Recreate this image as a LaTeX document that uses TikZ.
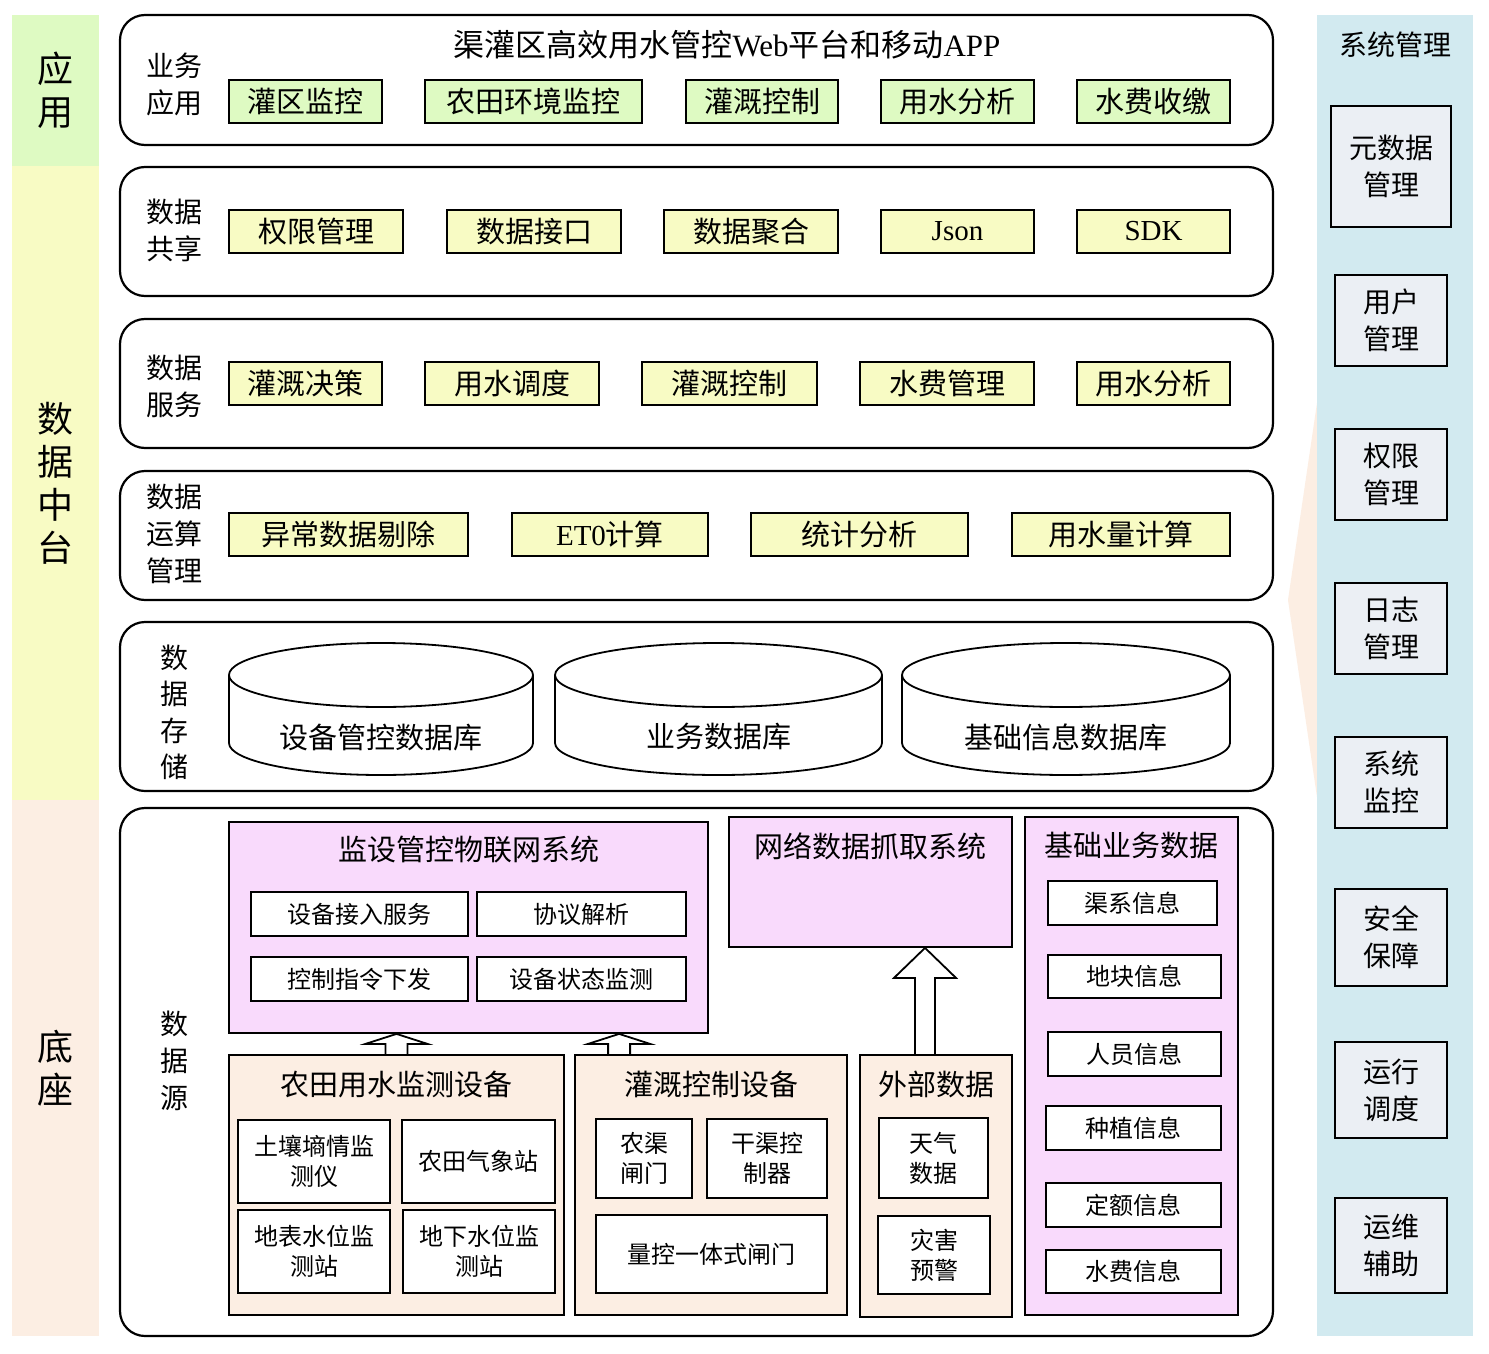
\documentclass[tikz,border=0pt]{standalone}
\usepackage{fontspec}
\setmainfont{Liberation Serif}
\newfontfamily\cjk{Noto Sans CJK SC}
\usetikzlibrary{positioning, calc}
\definecolor{appgreen}{HTML}{DEFAC2}
\definecolor{midyellow}{HTML}{F8FBC4}
\definecolor{syspink}{HTML}{F9DAFC}
\definecolor{devpeach}{HTML}{FCEEE3}
\definecolor{mgmtblue}{HTML}{D2EAF0}
\definecolor{mgmtgray}{HTML}{EBEFF4}
\newcommand{\lat}[1]{{\rmfamily #1}}
\tikzset{
        band/.style={inner sep=0pt, align=center, font=\fontsize{36}{43}\cjk}, % coloured side columns
        layer/.style={draw, line width=2.2pt, rounded corners=25pt, inner sep=0pt}, % big rounded layers
        tag/.style={inner sep=0pt, align=center, font=\fontsize{28}{37}\cjk}, % layer names
        ttl/.style={inner sep=0pt, font=\fontsize{29}{34}\cjk},
        func/.style={draw, line width=1.8pt, inner sep=0pt, minimum height=43pt, font=\fontsize{29}{34}\cjk},
        appfunc/.style={func, fill=appgreen},
        midfunc/.style={func, fill=midyellow},
        sysbox/.style={draw, line width=1.8pt, fill=syspink, inner sep=0pt},
        devbox/.style={draw, line width=1.8pt, fill=devpeach, inner sep=0pt},
        item/.style={draw, line width=1.8pt, fill=white, inner sep=0pt, align=center, font=\fontsize{24}{30}\cjk},
        mgmt/.style={draw, line width=2pt, fill=mgmtgray, inner sep=0pt, minimum width=112pt, align=center, font=\fontsize{28}{37}\cjk},
        drum/.style={line width=1.8pt},
        dbname/.style={inner sep=0pt, font=\fontsize{29}{34}\cjk},
        hollow/.style={line width=1.8pt},
        }
% database drum: centre x, x radius
\newcommand{\dbdrum}[2]{%
        \draw[drum] (#1,675) ellipse[x radius=#2, y radius=32];
        \draw[drum] ({#1-#2},675) -- ({#1-#2},743) arc[start angle=180, end angle=0, x radius=#2, y radius=32] -- ({#1+#2},675);}
% hollow up arrow: base point, target (only its y), head length, shaft half width
\newcommand{\hollowup}[4]{%
        \draw[hollow] let \p1=#1, \p2=#2 in
        (\x1-#4,\y1) -- (\x1-#4,\y2-#3) -- (\x1-31pt,\y2-#3) -- (\x1,\y2)
        -- (\x1+31pt,\y2-#3) -- (\x1+#4,\y2-#3) -- (\x1+#4,\y1);}
\begin{document}
\begin{tikzpicture}[x=1pt, y=-1pt]
        \fill[white] (0,0) rectangle (1489,1354);
        \useasboundingbox (0,0) rectangle (1489,1354);
        % left columns
        \node[band, fill=appgreen, minimum width=87pt, minimum height=151pt] (appband) at (55.5,90.5) {应\\用};
        \node[band, fill=midyellow, minimum width=87pt, minimum height=634pt] (midband) at (55.5,483) {数\\据\\中\\台};
        \node[band, fill=devpeach, minimum width=87pt, minimum height=536pt] (baseband) at (55.5,1068) {底\\座};

        % right column
        \fill[devpeach] (1317,403) -- (1288,600) -- (1317,797) -- cycle;
        \node[band, fill=mgmtblue, minimum width=156pt, minimum height=1321pt] (mgmtband) at (1395,675.5) {};
        \node[tag] (mgmtttl) at (1395,45) {系统管理};
        \node[mgmt, minimum width=120pt, minimum height=121pt] (meta) at (1391,166.5) {元数据\\管理};
        \node[mgmt, minimum height=91pt] (user) at (1391,320.5) {用户\\管理};
        \node[mgmt, minimum height=91pt] (perm) at (1391,474.5) {权限\\管理};
        \node[mgmt, minimum height=91pt] (log) at (1391,628.5) {日志\\管理};
        \node[mgmt, minimum height=91pt] (monitor) at (1391,782.5) {系统\\监控};
        \node[mgmt, minimum height=97pt] (safety) at (1391,937.5) {安全\\保障};
        \node[mgmt, minimum height=96pt] (dispatch) at (1391,1090) {运行\\调度};
        \node[mgmt, minimum height=95pt] (ops) at (1391,1245.5) {运维\\辅助};

        % layers
        \node[layer, minimum width=1153pt, minimum height=130pt] (appl) at (696.5,80) {};
        \node[layer, minimum width=1153pt, minimum height=129pt] (share) at (696.5,231.5) {};
        \node[layer, minimum width=1153pt, minimum height=129pt] (serv) at (696.5,383.5) {};
        \node[layer, minimum width=1153pt, minimum height=129pt] (calc) at (696.5,535.5) {};
        \node[layer, minimum width=1153pt, minimum height=169pt] (store) at (696.5,706.5) {};
        \node[layer, minimum width=1153pt, minimum height=528pt] (src) at (696.5,1072) {};

        \node[tag] (appltag) at (174,84) {业务\\应用};
        \node[tag] (sharetag) at (174,230) {数据\\共享};
        \node[tag] (servtag) at (174,386.5) {数据\\服务};
        \node[tag] (calctag) at (174,533.5) {数据\\运算\\管理};
        \node[tag, font=\fontsize{28}{36.5}\cjk] (storetag) at (174,712.5) {数\\据\\存\\储};
        \node[tag] (srctag) at (174,1061) {数\\据\\源};

        % business applications
        \node[ttl, font=\fontsize{31}{35}\cjk] (portal) at (727,45) {渠灌区高效用水管控\lat{Web}平台和移动\lat{APP}};
        \node[appfunc, minimum width=153pt] (irrmon) at (305.5,101.5) {灌区监控};
        \node[appfunc, minimum width=217pt] (envmon) at (533.5,101.5) {农田环境监控};
        \node[appfunc, minimum width=152pt] (irrctl) at (762,101.5) {灌溉控制};
        \node[appfunc, minimum width=153pt] (useana) at (957.5,101.5) {用水分析};
        \node[appfunc, minimum width=153pt] (feepay) at (1153.5,101.5) {水费收缴};

        % data sharing
        \node[midfunc, minimum width=174pt] (auth) at (316,231.5) {权限管理};
        \node[midfunc, minimum width=174pt] (iface) at (534,231.5) {数据接口};
        \node[midfunc, minimum width=174pt] (aggr) at (751,231.5) {数据聚合};
        \node[midfunc, minimum width=153pt] (json) at (957.5,231.5) {\lat{Json}};
        \node[midfunc, minimum width=153pt] (sdk) at (1153.5,231.5) {\lat{SDK}};

        % data services
        \node[midfunc, minimum width=153pt] (decide) at (305.5,383.5) {灌溉决策};
        \node[midfunc, minimum width=174pt] (sched) at (512,383.5) {用水调度};
        \node[midfunc, minimum width=175pt] (ctlsrv) at (729.5,383.5) {灌溉控制};
        \node[midfunc, minimum width=174pt] (feemgr) at (947,383.5) {水费管理};
        \node[midfunc, minimum width=153pt] (anasrv) at (1153.5,383.5) {用水分析};

        % computation
        \node[midfunc, minimum width=239pt] (clean) at (348.5,534.5) {异常数据剔除};
        \node[midfunc, minimum width=196pt] (eto) at (610,534.5) {\lat{ET0}计算};
        \node[midfunc, minimum width=217pt] (stats) at (859.5,534.5) {统计分析};
        \node[midfunc, minimum width=218pt] (volume) at (1121,534.5) {用水量计算};

        % storage
        \dbdrum{381}{152}
        \dbdrum{718.5}{163.5}
        \dbdrum{1066}{164}
        \node[dbname] (devdb) at (381,737) {设备管控数据库};
        \node[dbname] (busdb) at (718.5,737) {业务数据库};
        \node[dbname] (basedb) at (1066,737) {基础信息数据库};

        % data sources
        \node[sysbox, minimum width=479pt, minimum height=211pt] (iot) at (468.5,927.5) {};
        \node[ttl] (iotttl) at (468.5,850) {监设管控物联网系统};
        \node[item, minimum width=217pt, minimum height=44pt] (access) at (359.5,914) {设备接入服务};
        \node[item, minimum width=209pt, minimum height=44pt] (proto) at (581.5,914) {协议解析};
        \node[item, minimum width=217pt, minimum height=44pt] (cmd) at (359.5,979) {控制指令下发};
        \node[item, minimum width=209pt, minimum height=44pt] (status) at (581.5,979) {设备状态监测};

        \node[sysbox, minimum width=283pt, minimum height=130pt] (crawl) at (870.5,882) {};
        \node[ttl] (crawlttl) at (870.5,846) {网络数据抓取系统};

        \node[sysbox, minimum width=213pt, minimum height=498pt] (basic) at (1131.5,1066) {};
        \node[ttl] (basicttl) at (1131.5,846) {基础业务数据};
        \node[item, minimum width=169pt, minimum height=44pt] (canal) at (1132.5,903) {渠系信息};
        \node[item, minimum width=173pt, minimum height=43pt] (plot) at (1134.5,976.5) {地块信息};
        \node[item, minimum width=173pt, minimum height=44pt] (staff) at (1134.5,1054) {人员信息};
        \node[item, minimum width=175pt, minimum height=44pt] (crop) at (1133.5,1128) {种植信息};
        \node[item, minimum width=175pt, minimum height=44pt] (quota) at (1133.5,1205) {定额信息};
        \node[item, minimum width=175pt, minimum height=43pt] (fee) at (1133.5,1271.5) {水费信息};

        \node[devbox, minimum width=335pt, minimum height=260pt] (farm) at (396.5,1185) {};
        \node[ttl] (farmttl) at (396.5,1084) {农田用水监测设备};
        \node[item, minimum width=152pt, minimum height=83pt] (soil) at (314,1161.5) {土壤墒情监\\测仪};
        \node[item, minimum width=153pt, minimum height=83pt] (weather) at (478.5,1161.5) {农田气象站};
        \node[item, minimum width=152pt, minimum height=83pt] (surf) at (314,1251.5) {地表水位监\\测站};
        \node[item, minimum width=152pt, minimum height=83pt] (ground) at (479,1251.5) {地下水位监\\测站};

        \node[devbox, minimum width=272pt, minimum height=260pt] (irr) at (711,1185) {};
        \node[ttl] (irrttl) at (711,1084) {灌溉控制设备};
        \node[item, minimum width=96pt, minimum height=79pt] (gate) at (644,1158.5) {农渠\\闸门};
        \node[item, minimum width=120pt, minimum height=79pt] (mainctl) at (767,1158.5) {干渠控\\制器};
        \node[item, minimum width=231pt, minimum height=78pt] (meter) at (711.5,1254) {量控一体式闸门};

        \node[devbox, minimum width=152pt, minimum height=262pt] (ext) at (936,1186) {};
        \node[ttl] (extttl) at (936,1084) {外部数据};
        \node[item, minimum width=109pt, minimum height=80pt] (wdata) at (933.5,1158) {天气\\数据};
        \node[item, minimum width=112pt, minimum height=78pt] (alarm) at (934,1255) {灾害\\预警};

        % upward arrows
        \hollowup{(farm.north)}{(iot.south)}{10pt}{11pt}
        \hollowup{($(irr.north west)+(45,0)$)}{(iot.south)}{10pt}{11pt}
        \hollowup{($(ext.north)+(-11,0)$)}{(crawl.south)}{30pt}{10pt}
\end{tikzpicture}
\end{document}
